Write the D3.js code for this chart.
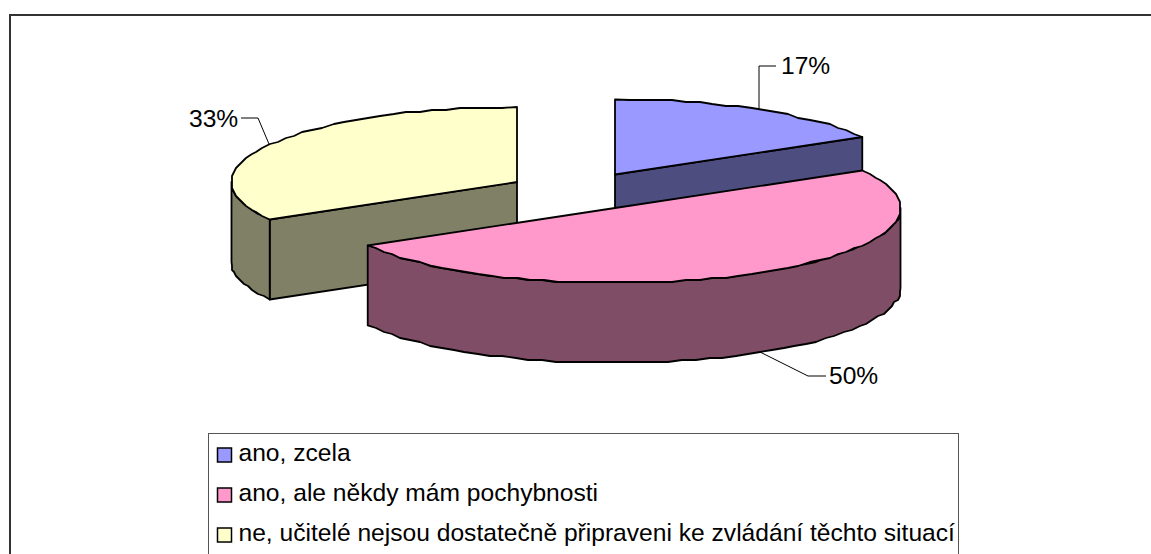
<!DOCTYPE html>
<html><head><meta charset="utf-8">
<script src="https://cdnjs.cloudflare.com/ajax/libs/d3/7.8.5/d3.min.js"></script>
<style>html,body{margin:0;padding:0;background:#fff}svg{display:block}text{font-family:"Liberation Sans",Arial,sans-serif;fill:#000}</style>
</head><body><svg id="c" width="1151" height="554"></svg>
<script>
const categories = ["ano, zcela","ano, ale někdy mám pochybnosti","ne, učitelé nejsou dostatečně připraveni ke zvládání těchto situací"];
const values = [16.67,50,33.33];
const labels = ["17%","50%","33%"];
const topColors = ["#9999ff","#ff99cc","#ffffcc"];
const wallColors = ["#4d4d80","#804d66","#808066"];
const centers = [[615,174.5],[615,208],[517,182]];
const rx=285.5, ry=75, depth=80;
const svg=d3.select("#c");
// the chart frame runs past the right and bottom edges of the picture
svg.append("rect").attr("x",10).attr("y",15).attr("width",1300).attr("height",700).attr("fill","#fff").attr("stroke","#333").attr("stroke-width",2);

const pie=d3.pie().sort(null).value(d=>d).startAngle(0).endAngle(2*Math.PI)(values);
const pos=(c,a,dz=0)=>[c[0]+rx*Math.sin(a), c[1]-ry*Math.cos(a)+dz];
const sampleStep=0.05;
function arcPts(c,a0,a1,dz=0){
  const n=Math.max(2,Math.ceil(Math.abs(a1-a0)/sampleStep)), pts=[];
  for(let i=0;i<=n;i++){
    const a=a0+(a1-a0)*i/n, p=pos(c,a,dz);
    // coarse device-grid rounding gives the scalloped outline of the original
    pts.push(i===0||i===n?p:[Math.round(p[0]/2)*2,Math.round(p[1]/2)*2]);
  }
  return pts;
}
const line=d3.line().curve(d3.curveLinear);
function shape(cls,pts,fill){
  svg.append("path").attr("class",cls).attr("d",line(pts)+"Z").attr("fill",fill)
    .attr("stroke","#000").attr("stroke-width",1.8).attr("stroke-linejoin","round");
}
function drawSlice(i){
  const c=centers[i], a0=pie[i].startAngle, a1=pie[i].endAngle, tc=topColors[i], wc=wallColors[i];
  // the one cut wall of each slice that faces the viewer
  const cutAngle = i===0 ? a1 : (i===2 ? a0 : null);
  if(cutAngle!==null){
    const p=pos(c,cutAngle);
    shape("wall",[c,p,[p[0],p[1]+depth],[c[0],c[1]+depth]],wc);
  }
  // outer curved wall for the part of the rim in front (pi/2..3pi/2)
  const s=Math.max(a0,Math.PI/2), e=Math.min(a1,3*Math.PI/2);
  if(e>s){
    const up=arcPts(c,s,e), low=arcPts(c,e,s,depth);
    shape("wall",up.concat(low),wc);
  }
  shape("top",[c].concat(arcPts(c,a0,a1)),tc);
}
[2,0,1].forEach(drawSlice);

// leader lines and data labels
const leaderPts=[[[759,110],[759,66],[776,66]],[[760,352],[808,376],[826,376]],[[269,144],[258,118],[241,118]]];
const labelAt=[[781,74],[829,384],[189,127]];
leaderPts.forEach(p=>svg.append("path").attr("d",d3.line()(p)).attr("fill","none").attr("stroke","#000").attr("stroke-width",1));
labels.forEach((t,i)=>svg.append("text").attr("x",labelAt[i][0]).attr("y",labelAt[i][1]).attr("font-size",24.6).text(t));

// legend
svg.append("rect").attr("x",208.5).attr("y",433.5).attr("width",750).attr("height",140).attr("fill","#fff").attr("stroke","#555").attr("stroke-width",1);
const ly=d3.scalePoint().domain(categories).range([455,535]);
categories.forEach((t,i)=>{
  svg.append("rect").attr("x",217.5).attr("y",ly(t)-7).attr("width",14).attr("height",14).attr("fill",topColors[i]).attr("stroke","#000").attr("stroke-width",1.5);
  svg.append("text").attr("x",238.5).attr("y",ly(t)+6).attr("font-size",24.6).text(t);
});
</script></body></html>
